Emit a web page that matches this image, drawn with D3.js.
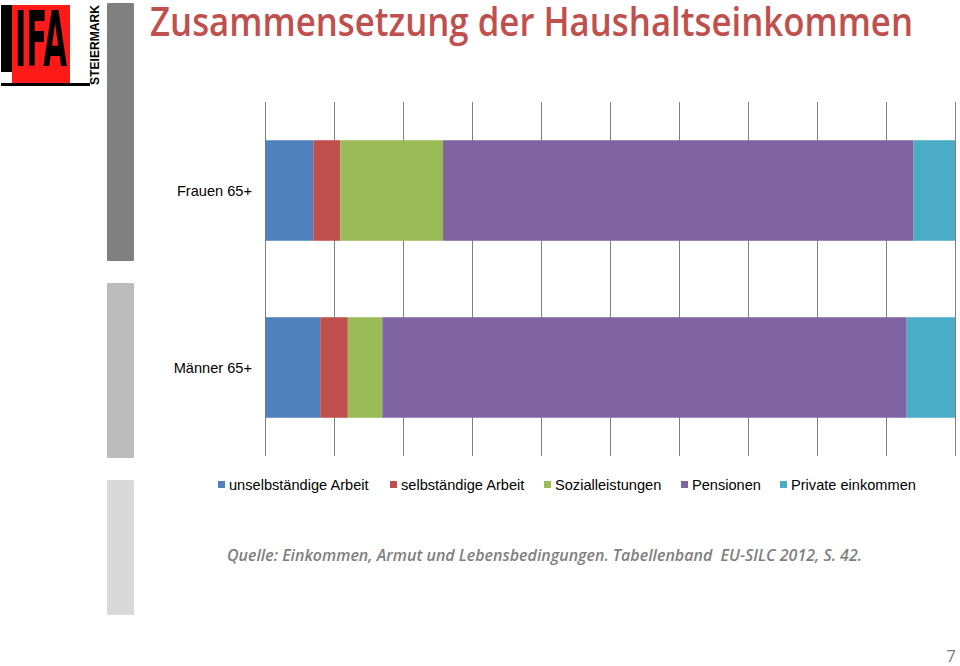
<!DOCTYPE html>
<meta charset="utf-8">
<script src="https://d3js.org/d3.v7.min.js"></script>
<style>
  body { margin: 0; background: #fff; }
  svg { display: block; }
</style>
<div id="my_dataviz"></div>
<script>

// categories, top to bottom
var groups = ["Frauen 65+", "Männer 65+"];

// income components (legend order)
var keys = ["unselbständige Arbeit", "selbständige Arbeit", "Sozialleistungen", "Pensionen", "Private einkommen"];

// shares in percent, one value per group
var unselbstaendig = [7.0, 8.0];
var selbstaendig   = [3.9, 4.0];
var sozial         = [14.9, 5.0];
var pensionen      = [68.2, 76.0];
var privat         = [6.0, 7.0];

var xTicks = [0, 10, 20, 30, 40, 50, 60, 70, 80, 90, 100];

var colors = ["#4F81BD", "#C0504D", "#9BBB59", "#8064A2", "#4BACC6"];

// build a table for d3.stack
var series = [unselbstaendig, selbstaendig, sozial, pensionen, privat];
var data = groups.map(function(g, i) {
  var row = { group: g };
  keys.forEach(function(k, j) { row[k] = series[j][i]; });
  return row;
});

var W = 960, H = 666;
var svg = d3.select("#my_dataviz")
  .append("svg")
    .attr("width", W)
    .attr("height", H);

// ---- left decoration: grey column blocks
var deco = [[3, 261, "#808080"], [283, 458, "#BCBCBC"], [480, 615, "#D9D9D9"]];
svg.selectAll("rect.deco")
  .data(deco)
  .enter()
  .append("rect")
    .attr("x", 107)
    .attr("y", function(d) { return d[0]; })
    .attr("width", 27)
    .attr("height", function(d) { return d[1] - d[0]; })
    .attr("rx", 1)
    .style("fill", function(d) { return d[2]; });

// ---- logo
var logo = svg.append("g");
logo.append("rect").attr("x", 1).attr("y", 5).attr("width", 12).attr("height", 67).style("fill", "#000");
logo.append("rect").attr("x", 12).attr("y", 5).attr("width", 58).attr("height", 78).style("fill", "#ff1a1a");
logo.append("rect").attr("x", 1).attr("y", 83).attr("width", 89).attr("height", 3).style("fill", "#000");
logo.append("text")
  .attr("x", 15).attr("y", 66)
  .attr("textLength", 52).attr("lengthAdjust", "spacingAndGlyphs")
  .style("font-family", "'DejaVu Sans Condensed', 'Liberation Sans Narrow', sans-serif")
  .style("font-weight", "bold")
  .style("font-size", "76px")
  .style("fill", "#000")
  .text("IFA");
logo.append("text")
  .attr("transform", "translate(99,85) rotate(-90)")
  .attr("textLength", 80).attr("lengthAdjust", "spacingAndGlyphs")
  .style("font-family", "'Liberation Sans', Arial, sans-serif")
  .style("font-weight", "bold")
  .style("font-size", "12px")
  .style("fill", "#000")
  .text("STEIERMARK");

// ---- title
svg.append("text")
  .attr("x", 150).attr("y", 36)
  .attr("textLength", 763).attr("lengthAdjust", "spacingAndGlyphs")
  .style("font-family", "'Open Sans', sans-serif")
  .style("font-weight", "600")
  .style("font-size", "39px")
  .style("fill", "#C0504D")
  .text("Zusammensetzung der Haushaltseinkommen");

// ---- chart
var margin = {left: 265, top: 102},
    width = 690,
    height = 354;

var g = svg.append("g")
  .attr("transform", "translate(" + margin.left + "," + margin.top + ")");

var x = d3.scaleLinear().domain([0, 100]).range([0, width]);
var y = d3.scaleBand().domain(groups).range([0, height]).paddingInner(0.432).paddingOuter(0.216);

// gridlines (behind the bars)
g.append("g")
  .selectAll("line")
  .data(xTicks)
  .enter()
  .append("line")
    .attr("x1", function(d) { return x(d) + 0.5; })
    .attr("x2", function(d) { return x(d) + 0.5; })
    .attr("y1", 0)
    .attr("y2", height)
    .style("stroke", "#808080")
    .style("stroke-width", 1);

var stacked = d3.stack().keys(keys)(data);

g.append("g")
  .selectAll("g")
  .data(stacked)
  .enter()
  .append("g")
    .style("fill", function(d, i) { return colors[i]; })
  .selectAll("rect")
  .data(function(d) { return d; })
  .enter()
  .append("rect")
    .attr("x", function(d) { return x(d[0]); })
    .attr("y", function(d) { return y(d.data.group); })
    .attr("width", function(d) { return x(d[1]) - x(d[0]); })
    .attr("height", y.bandwidth());

// category labels
g.append("g")
  .selectAll("text")
  .data(groups)
  .enter()
  .append("text")
    .attr("x", -13)
    .attr("y", function(d) { return y(d) + y.bandwidth() / 2; })
    .attr("dy", "0.35em")
    .style("text-anchor", "end")
    .style("font-family", "'Liberation Sans', Arial, sans-serif")
    .style("font-size", "14.6px")
    .style("fill", "#000")
    .text(function(d) { return d; });

// ---- legend
var legendX = [218, 390, 544, 681, 780];
var legend = svg.append("g")
  .selectAll("g")
  .data(keys)
  .enter()
  .append("g")
    .attr("transform", function(d, i) { return "translate(" + legendX[i] + ",485)"; });
legend.append("rect")
  .attr("x", 0).attr("y", -4)
  .attr("width", 7).attr("height", 7)
  .style("fill", function(d, i) { return colors[i]; });
legend.append("text")
  .attr("x", 11).attr("y", 0)
  .attr("dy", "0.35em")
  .style("font-family", "'Liberation Sans', Arial, sans-serif")
  .style("font-size", "14.6px")
  .style("fill", "#000")
  .text(function(d) { return d; });

// ---- source
svg.append("text")
  .attr("x", 227).attr("y", 561)
  .attr("textLength", 635).attr("lengthAdjust", "spacingAndGlyphs")
  .style("white-space", "pre")
  .style("font-family", "'Open Sans', sans-serif")
  .style("font-style", "italic")
  .style("font-weight", "600")
  .style("font-size", "16px")
  .style("fill", "#7F7F7F")
  .text("Quelle: Einkommen, Armut und Lebensbedingungen. Tabellenband  EU-SILC 2012, S. 42.");

// ---- page number
svg.append("text")
  .attr("x", 956).attr("y", 662)
  .style("text-anchor", "end")
  .style("font-family", "'Open Sans', sans-serif")
  .style("font-size", "17px")
  .style("fill", "#7F7F7F")
  .text("7");

</script>
